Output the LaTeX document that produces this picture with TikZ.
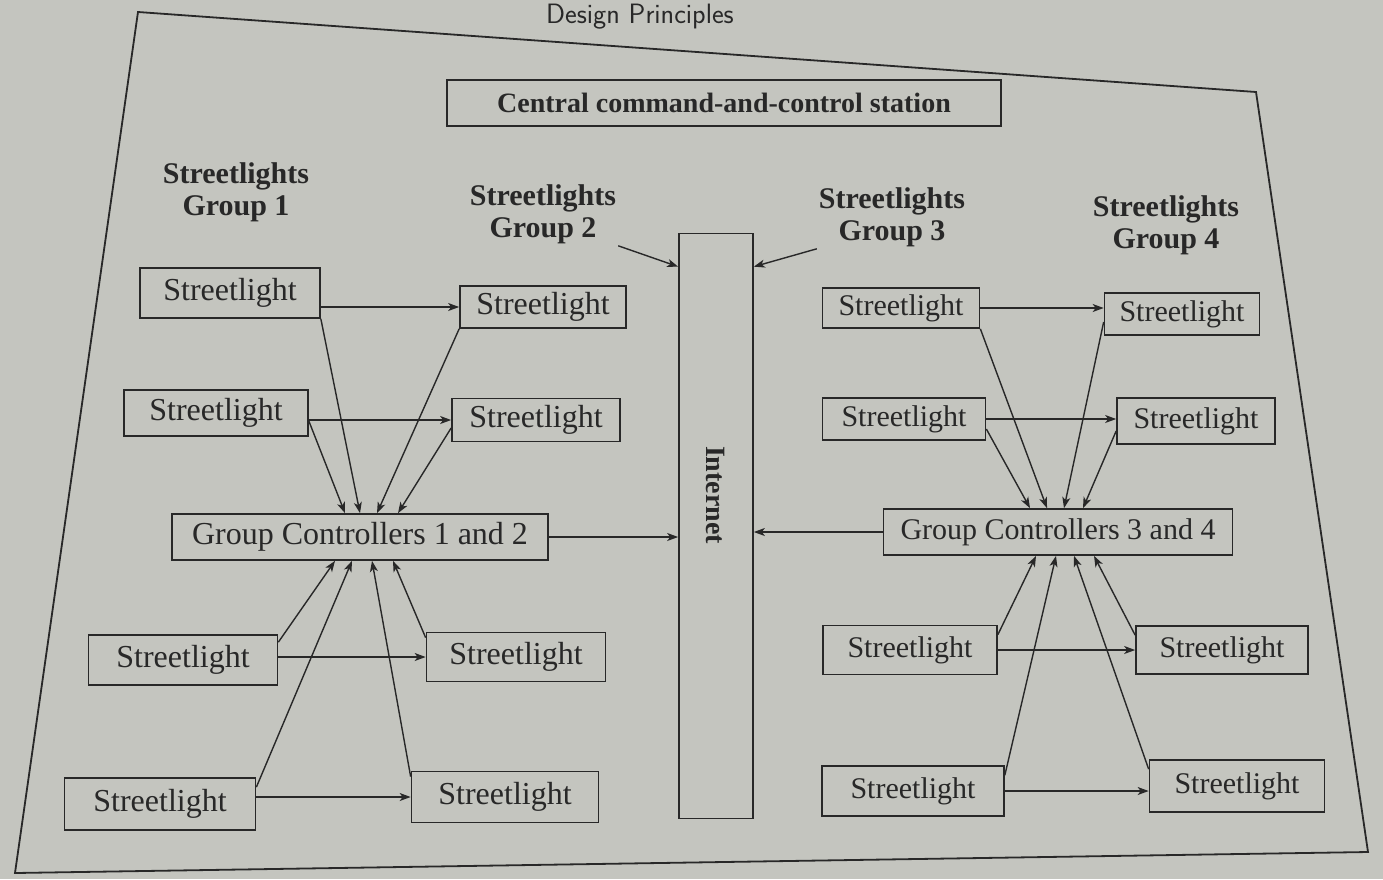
\documentclass[tikz,border=0pt]{standalone}
\usepackage{fontspec}
\setmainfont{Liberation Serif}
\usetikzlibrary{arrows.meta}
\definecolor{paper}{RGB}{196,197,191}
\definecolor{ink}{RGB}{40,40,40}
\tikzset{
 sl/.style={draw=ink, line width=1.7pt, minimum height=44pt, inner sep=0pt, font=\fontsize{32}{34}\selectfont, text=ink},
 slr/.style={sl, font=\fontsize{30}{32}\selectfont},
 gc/.style={sl, minimum height=46pt, font=\fontsize{32}{34}\selectfont},
 lbl/.style={align=center, font=\bfseries\fontsize{30}{32}\selectfont, text=ink, inner sep=2pt},
 arr/.style={draw=ink, line width=1.4pt, -{Stealth[length=11pt,width=8pt,inset=3pt]}},
}
\begin{document}
\begin{tikzpicture}[x=1pt,y=-1pt]
\fill[paper] (0,0) rectangle (1383,879);
\useasboundingbox (0,0) rectangle (1383,879);
\node[font=\sffamily\fontsize{28}{30}\selectfont, text=ink, anchor=base] (hdr) at (640,23) {Design Principles};
\draw[ink, line width=1.8pt] (138,12) -- (1256,92) -- (1368,852) -- (15,873) -- cycle;

% central station and internet
\node[sl, minimum width=554pt, minimum height=46pt, font=\bfseries\fontsize{28}{30}\selectfont] (cs) at (724,103) {Central command-and-control station};
\node[draw=ink, line width=1.7pt, minimum width=74pt, minimum height=585pt] (net) at (716,526) {};
\node[rotate=-90, font=\bfseries\fontsize{28}{30}\selectfont, text=ink] (netlbl) at (716,495) {Internet};

% group labels
\node[lbl] (G1) at (236,192) {Streetlights\\Group 1};
\node[lbl] (G2) at (543,214) {Streetlights\\Group 2};
\node[lbl] (G3) at (892,217) {Streetlights\\Group 3};
\node[lbl] (G4) at (1166,225) {Streetlights\\Group 4};

% left side
\node[sl, minimum width=180pt, minimum height=50pt] (A1) at (230,293) {Streetlight};
\node[sl, minimum width=184pt, minimum height=46pt] (A2) at (216,413) {Streetlight};
\node[sl, minimum width=166pt, minimum height=42pt] (B1) at (543,307) {Streetlight};
\node[sl, minimum width=168pt, minimum height=43pt] (B2) at (536,420) {Streetlight};
\node[gc, minimum width=376pt] (GC12) at (360,537) {Group Controllers 1 and 2};
\node[sl, minimum width=189pt, minimum height=50pt] (A3) at (183,660) {Streetlight};
\node[sl, minimum width=179pt, minimum height=49pt] (B3) at (516,657) {Streetlight};
\node[sl, minimum width=191pt, minimum height=52pt] (A4) at (160,804) {Streetlight};
\node[sl, minimum width=187pt, minimum height=51pt] (B4) at (505,797) {Streetlight};

% right side
\node[slr, minimum width=157pt, minimum height=40pt] (C1) at (901,308) {Streetlight};
\node[slr, minimum width=155pt, minimum height=42pt] (D1) at (1182,314) {Streetlight};
\node[slr, minimum width=163pt, minimum height=42pt] (C2) at (904,419) {Streetlight};
\node[slr, minimum width=158pt, minimum height=46pt] (D2) at (1196,421) {Streetlight};
\node[gc, minimum width=349pt, font=\fontsize{30}{32}\selectfont] (GC34) at (1058,532) {Group Controllers 3 and 4};
\node[slr, minimum width=174pt, minimum height=49pt] (C3) at (910,650) {Streetlight};
\node[slr, minimum width=172pt, minimum height=48pt] (D3) at (1222,650) {Streetlight};
\node[slr, minimum width=182pt, minimum height=50pt] (C4) at (913,791) {Streetlight};
\node[slr, minimum width=175pt, minimum height=52pt] (D4) at (1237,786) {Streetlight};

% label arrows
\draw[arr] (G2.south east) -- ([yshift=-34pt]net.north west);
\draw[arr] (G3.south west) -- ([yshift=-34pt]net.north east);

% left connections
\draw[arr] (A1.east |- B1.west) -- (B1.west);
\draw[arr] (A2.east |- B2.west) -- (B2.west);
\draw[arr] ([yshift=-8pt]A2.east) -- ([xshift=-15pt]GC12.north);
\draw[arr] (A1.south east) -- ([xshift=0pt]GC12.north);
\draw[arr] (B1.south west) -- ([xshift=17pt]GC12.north);
\draw[arr] ([yshift=-8pt]B2.west) -- ([xshift=38pt]GC12.north);
\draw[arr] (A3.east |- B3.west) -- (B3.west);
\draw[arr] (A4.east |- B4.west) -- (B4.west);
\draw[arr] ([yshift=-8pt]A3.north east) -- ([xshift=-25pt]GC12.south);
\draw[arr] ([yshift=-10pt]A4.north east) -- ([xshift=-8pt]GC12.south);
\draw[arr] ([yshift=-6pt]B4.north west) -- ([xshift=12pt]GC12.south);
\draw[arr] ([yshift=-6pt]B3.north west) -- ([xshift=33pt]GC12.south);
\draw[arr] (GC12.east) -- (net.west |- GC12.east);

% right connections
\draw[arr] (C1.east) -- (D1.west |- C1.east);
\draw[arr] (C2.east) -- (D2.west |- C2.east);
\draw[arr] ([yshift=-10pt]C2.east) -- ([xshift=-28pt]GC34.north);
\draw[arr] (C1.south east) -- ([xshift=-11pt]GC34.north);
\draw[arr] ([yshift=-8pt]D1.west) -- ([xshift=6pt]GC34.north);
\draw[arr] ([yshift=-10pt]D2.west) -- ([xshift=25pt]GC34.north);
\draw[arr] (C3.east) -- (D3.west |- C3.east);
\draw[arr] (C4.east) -- (D4.west |- C4.east);
\draw[arr] ([yshift=-10pt]C3.north east) -- ([xshift=-22pt]GC34.south);
\draw[arr] ([yshift=-10pt]C4.north east) -- ([xshift=-2pt]GC34.south);
\draw[arr] ([yshift=-10pt]D4.north west) -- ([xshift=16pt]GC34.south);
\draw[arr] ([yshift=-10pt]D3.north west) -- ([xshift=36pt]GC34.south);
\draw[arr] (GC34.west) -- (net.east |- GC34.west);
\end{tikzpicture}
\end{document}
